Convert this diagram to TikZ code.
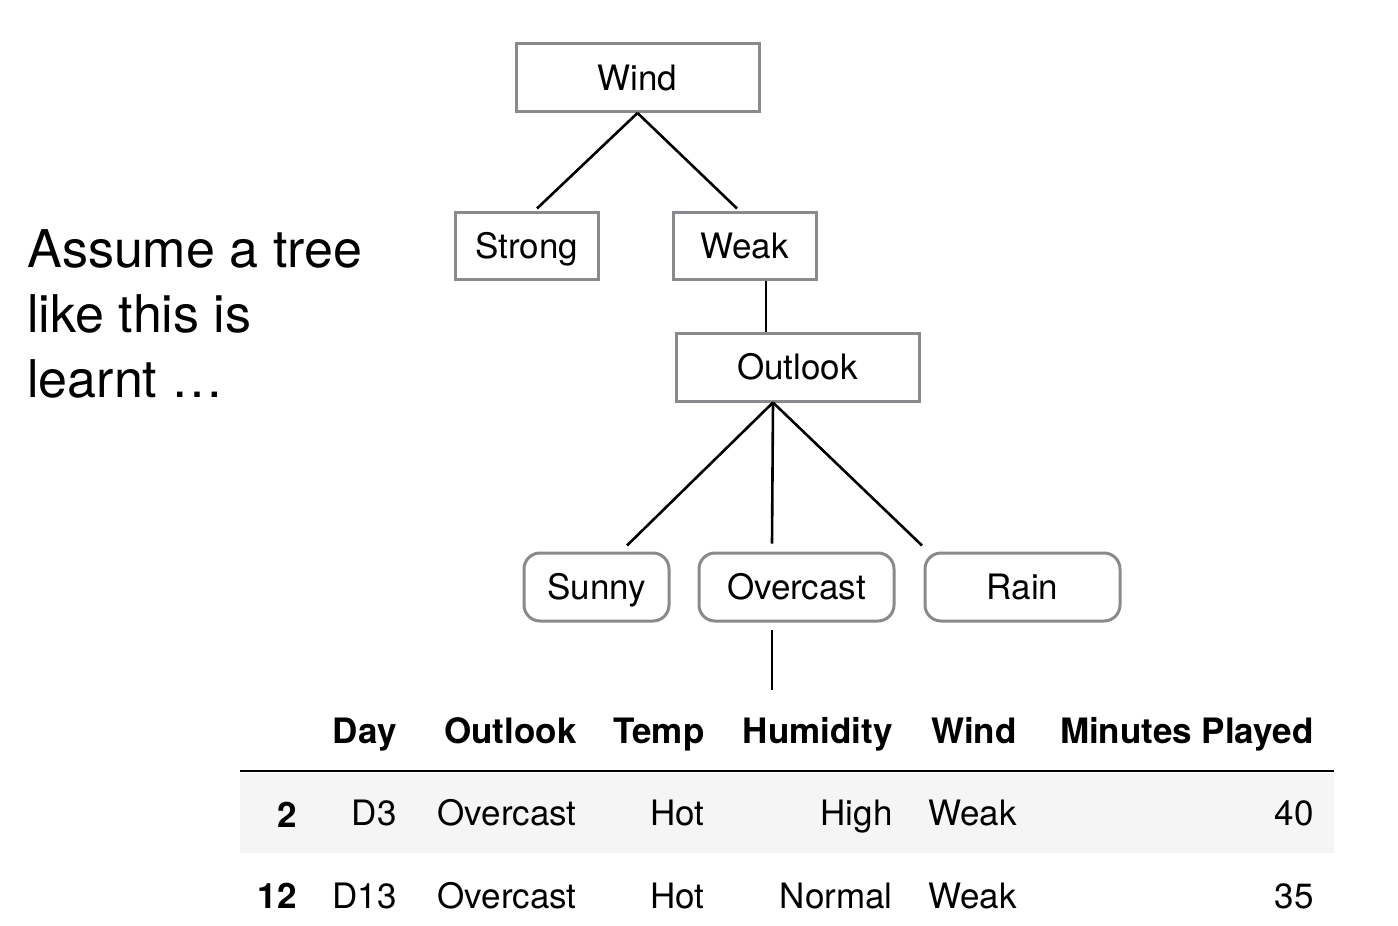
\documentclass[tikz,border=0pt]{standalone}
\usepackage{fontspec}
\setmainfont{TeX Gyre Heros}
\usetikzlibrary{positioning}

\definecolor{boxgray}{RGB}{138,138,142}
\definecolor{rowgray}{RGB}{245,245,245}

\begin{document}
\begin{tikzpicture}[x=0.5pt, y=-0.5pt, auto, node distance=100pt]
        \tikzstyle{block} = [draw=boxgray, line width=1.5pt, rectangle, minimum height=34pt, inner sep=0pt, text height=12.6pt, text depth=0pt, font=\fontsize{17.5}{21}\selectfont]
        \tikzstyle{leaf} = [block, rounded corners=8pt]
        \tikzstyle{edge} = [line width=1.3pt]
        \tikzstyle{cell} = [anchor=base east, inner sep=0pt, font=\fontsize{17.5}{21}\selectfont]
        \tikzstyle{head} = [cell, font=\fontsize{17.5}{21}\selectfont\bfseries]

        \useasboundingbox (0,0) rectangle (1398,926);

        \node [anchor=base west, align=left, inner sep=0pt, font=\fontsize{26}{32.5}\selectfont] (caption) at (27,397) {Assume a tree\\like this is\\learnt …};

        % tree
        \node [block, minimum width=121.5pt] (wind) at (637.5,77.5) {Wind};
        \node [block, minimum width=71.5pt, minimum height=33.5pt] (strong) at (526.5,245.5) {Strong};
        \node [block, minimum width=71.5pt, minimum height=33.5pt, right of=strong, node distance=109pt] (weak) {Weak};
        \node [block, minimum width=121.5pt] (outlook) at (797.5,367) {Outlook};
        \node [leaf, minimum width=72.5pt] (sunny) at (596.5,587) {Sunny};
        \node [leaf, minimum width=97.5pt, right of=sunny] (overcast) {Overcast};
        \node [leaf, minimum width=97.5pt, right of=overcast, node distance=113pt] (rain) {Rain};
        \coordinate (table-top) at (772,690);

        \draw [edge] (wind.south) -- ([xshift=5.25pt, yshift=1pt]strong.north);
        \draw [edge] (wind.south) -- ([xshift=-3.75pt, yshift=1pt]weak.north);
        \draw [edge] ([xshift=10.75pt]weak.south) -- ([xshift=-15.75pt]outlook.north);
        \draw [edge] ([xshift=-12.25pt]outlook.south) -- ([xshift=15.25pt, yshift=3pt]sunny.north);
        \draw [edge] ([xshift=-12.25pt]outlook.south) -- ([xshift=-12.25pt, yshift=4pt]overcast.north);
        \draw [edge] ([xshift=-12.25pt]outlook.south) -- ([xshift=-50.25pt, yshift=3pt]rain.north);
        \draw [edge] ([xshift=-12.25pt, yshift=-3.5pt]overcast.south) -- (table-top);

        % table
        \fill [rowgray] (240,773) rectangle (1334,853);
        \draw [line width=1.25pt] (240,771) -- (1334,771);

        \node [head] (h-day) at (397,743) {Day};
        \node [head] (h-outlook) at (577,743) {Outlook};
        \node [head] (h-temp) at (705,743) {Temp};
        \node [head] (h-humidity) at (893,743) {Humidity};
        \node [head] (h-wind) at (1017,743) {Wind};
        \node [head] (h-minutes) at (1314,743) {Minutes Played};

        \node [head] (idx-2) at (297,827) {2};
        \node [cell] (day-2) at (397,825) {D3};
        \node [cell] (outlook-2) at (577,825) {Overcast};
        \node [cell] (temp-2) at (705,825) {Hot};
        \node [cell] (humidity-2) at (893,825) {High};
        \node [cell] (wind-2) at (1017,825) {Weak};
        \node [cell] (minutes-2) at (1314,825) {40};

        \node [head] (idx-12) at (297,908) {12};
        \node [cell] (day-12) at (397,908) {D13};
        \node [cell] (outlook-12) at (577,908) {Overcast};
        \node [cell] (temp-12) at (705,908) {Hot};
        \node [cell] (humidity-12) at (893,908) {Normal};
        \node [cell] (wind-12) at (1017,908) {Weak};
        \node [cell] (minutes-12) at (1314,908) {35};
\end{tikzpicture}
\end{document}
